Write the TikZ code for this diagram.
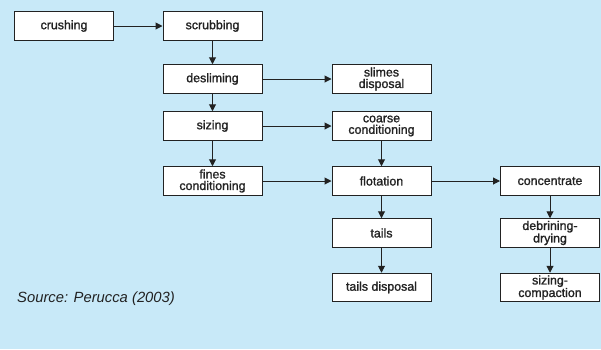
\documentclass[tikz,border=0pt]{standalone}
\usepackage{fontspec}
\setmainfont{Liberation Sans}
\newfontfamily\boxfont[FakeBold=1.3]{Liberation Sans}
\usetikzlibrary{arrows.meta}
\definecolor{bg}{HTML}{C8E9F8}
\definecolor{ink}{HTML}{222222}
\tikzset{
  box/.style={draw=ink, line width=1pt, fill=white, minimum width=99pt, minimum height=28.5pt,
    inner sep=0pt, align=center, text=ink, font=\boxfont\fontsize{12.4}{11.5}\selectfont},
  conn/.style={draw=ink, line width=1pt, -{Triangle[length=7pt,width=7pt]}}
}
\begin{document}
\begin{tikzpicture}[x=1pt,y=-1pt]
\fill[bg] (0,0) rectangle (601,349);
\useasboundingbox (0,0) rectangle (601,349);
\node[box] (crushing) at (64,26) {crushing};
\node[box] (scrubbing) at (212.5,26) {scrubbing};
\node[box] (desliming) at (212.5,79) {desliming};
\node[box] (slimes) at (381.5,79) {slimes\\disposal};
\node[box] (sizing) at (212.5,126) {sizing};
\node[box] (coarse) at (381.5,126) {coarse\\conditioning};
\node[box] (fines) at (212.5,181) {fines\\conditioning};
\node[box] (flotation) at (381.5,181) {flotation};
\node[box] (concentrate) at (550,181) {concentrate};
\node[box] (tails) at (381.5,233) {tails};
\node[box] (debrining) at (550,233) {debrining-\\drying};
\node[box] (tailsdisp) at (381.5,287.5) {tails disposal};
\node[box] (sizingcomp) at (550,287.5) {sizing-\\compaction};
\node[anchor=base west, inner sep=0pt, text=ink, font=\fontsize{14.8}{16}\selectfont\itshape] (source) at (17,302) {Source: Perucca (2003)};
\draw[conn] (crushing) -- (scrubbing);
\draw[conn] (scrubbing) -- (desliming);
\draw[conn] (desliming) -- (slimes);
\draw[conn] (desliming) -- (sizing);
\draw[conn] (sizing) -- (coarse);
\draw[conn] (sizing) -- (fines);
\draw[conn] (fines) -- (flotation);
\draw[conn] (coarse) -- (flotation);
\draw[conn] (flotation) -- (concentrate);
\draw[conn] (flotation) -- (tails);
\draw[conn] (tails) -- (tailsdisp);
\draw[conn] (concentrate) -- (debrining);
\draw[conn] (debrining) -- (sizingcomp);
\end{tikzpicture}
\end{document}
